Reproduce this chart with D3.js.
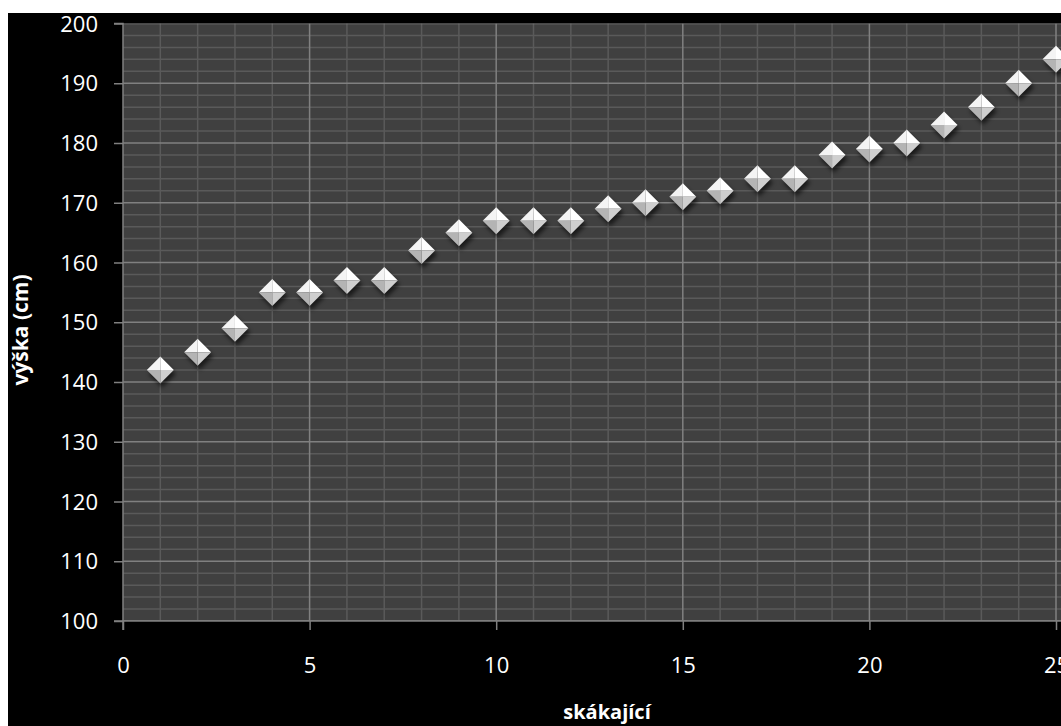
<!DOCTYPE html>
<html>
<head>
<meta charset="utf-8">
<script src="https://cdn.jsdelivr.net/npm/d3@7"></script>
<style>
  html, body { margin: 0; padding: 0; background: #ffffff; }
  svg { display: block; }
  text { font-family: "Open Sans", "Noto Sans", sans-serif; }
</style>
</head>
<body>
<svg id="chart" width="1061" height="726"></svg>
<script>
// Jumper index and height in centimetres
const jumpers = [1, 2, 3, 4, 5, 6, 7, 8, 9, 10, 11, 12, 13, 14, 15, 16, 17, 18, 19, 20, 21, 22, 23, 24, 25];
const heights = [142, 145, 149, 155, 155, 157, 157, 162, 165, 167, 167, 167, 169, 170, 171, 172, 174, 174, 178, 179, 180, 183, 186, 190, 194];
const xTicks = [0, 5, 10, 15, 20, 25];
const yTicks = [100, 110, 120, 130, 140, 150, 160, 170, 180, 190, 200];
const xTitle = "skákající";
const yTitle = "výška (cm)";

const svg = d3.select("#chart");
const W = 1061, H = 726;

// Outer black chart area
svg.append("rect").attr("x", 8).attr("y", 13).attr("width", W - 8).attr("height", H - 13).attr("fill", "#000");

const plotLeft = 123, plotTop = 23.5, plotBottom = 621;
const x = d3.scaleLinear().domain([0, 25]).range([plotLeft, 1056]);
const y = d3.scaleLinear().domain([100, 200]).range([plotBottom, plotTop]);

const defs = svg.append("defs");
defs.append("clipPath").attr("id", "plotClip")
  .append("rect").attr("x", plotLeft).attr("y", plotTop).attr("width", W - plotLeft).attr("height", plotBottom - plotTop);

const f = defs.append("filter").attr("id", "shadow").attr("x", "-50%").attr("y", "-50%").attr("width", "200%").attr("height", "200%");
f.append("feGaussianBlur").attr("stdDeviation", 2.2);

// Plot background
const plot = svg.append("g").attr("clip-path", "url(#plotClip)");
plot.append("rect").attr("x", plotLeft).attr("y", plotTop).attr("width", W - plotLeft).attr("height", plotBottom - plotTop).attr("fill", "#404040");

// Minor grid
const xMinor = d3.range(1, 29).filter(v => v % 5 !== 0);
const yMinor = d3.range(102, 200, 2).filter(v => v % 10 !== 0);
plot.selectAll("line.xm").data(xMinor).join("line")
  .attr("x1", d => x(d)).attr("x2", d => x(d)).attr("y1", plotTop).attr("y2", plotBottom)
  .attr("stroke", "#5a5a5a").attr("stroke-width", 1.5);
plot.selectAll("line.ym").data(yMinor).join("line")
  .attr("x1", plotLeft).attr("x2", W).attr("y1", d => y(d)).attr("y2", d => y(d))
  .attr("stroke", "#5a5a5a").attr("stroke-width", 1.5);

// Major grid
plot.selectAll("line.xM").data(d3.range(5, 30, 5)).join("line")
  .attr("x1", d => x(d)).attr("x2", d => x(d)).attr("y1", plotTop).attr("y2", plotBottom)
  .attr("stroke", "#808080").attr("stroke-width", 1.5);
plot.selectAll("line.yM").data(yTicks).join("line")
  .attr("x1", plotLeft).attr("x2", W).attr("y1", d => y(d)).attr("y2", d => y(d))
  .attr("stroke", "#808080").attr("stroke-width", 1.5);

// Axes
const yAxis = d3.axisLeft(y).tickValues(yTicks).tickSize(9).tickPadding(16);
const gy = svg.append("g").attr("transform", `translate(${plotLeft},0)`).call(yAxis);
const xAxis = d3.axisBottom(x).tickValues(xTicks).tickSize(9).tickPadding(16);
const gx = svg.append("g").attr("transform", `translate(0,${plotBottom})`).call(xAxis);
[gy, gx].forEach(g => {
  g.select(".domain").attr("stroke", "#808080").attr("stroke-width", 1.5);
  g.selectAll(".tick line").attr("stroke", "#808080").attr("stroke-width", 1.5);
  g.selectAll(".tick text").attr("fill", "#fff").attr("font-size", 22)
    .attr("font-family", "'Open Sans', sans-serif");
});
gy.select(".domain").attr("d", `M-9,${plotBottom}H0V${plotTop}H-9`);
gx.select(".domain").attr("d", `M${plotLeft},9V0H${W}`);
gy.selectAll(".tick text").attr("dy", "0.35em");
gx.selectAll(".tick text").attr("y", 44).attr("dy", "0.35em");

// Axis titles
svg.append("text").attr("x", 607).attr("y", 719).attr("text-anchor", "middle")
  .attr("fill", "#fff").attr("font-size", 20).attr("font-weight", "bold").text(xTitle);
svg.append("text").attr("transform", "translate(28,330) rotate(-90)").attr("text-anchor", "middle")
  .attr("fill", "#fff").attr("font-size", 21).attr("font-weight", "bold").text(yTitle);

// Diamond markers with bevelled facets
const pts = jumpers.map((j, i) => ({ x: j, y: heights[i] }));
const r = 13.5;
const mk = svg.append("g").selectAll("g").data(pts).join("g")
  .attr("transform", d => `translate(${x(d.x)},${y(d.y)})`);
mk.append("path").attr("d", `M0,${-r}L${r},0L0,${r}L${-r},0Z`)
  .attr("transform", "translate(2,4)").attr("fill", "#000").attr("opacity", 0.6).attr("filter", "url(#shadow)");
mk.append("path").attr("d", `M0,${-r}L${-r},0L0,0Z`).attr("fill", "#f4f4f4");
mk.append("path").attr("d", `M0,${-r}L${r},0L0,0Z`).attr("fill", "#ffffff");
mk.append("path").attr("d", `M${-r},0L0,${r}L0,0Z`).attr("fill", "#b4b4b4");
mk.append("path").attr("d", `M${r},0L0,${r}L0,0Z`).attr("fill", "#cfcfcf");
</script>
</body>
</html>
